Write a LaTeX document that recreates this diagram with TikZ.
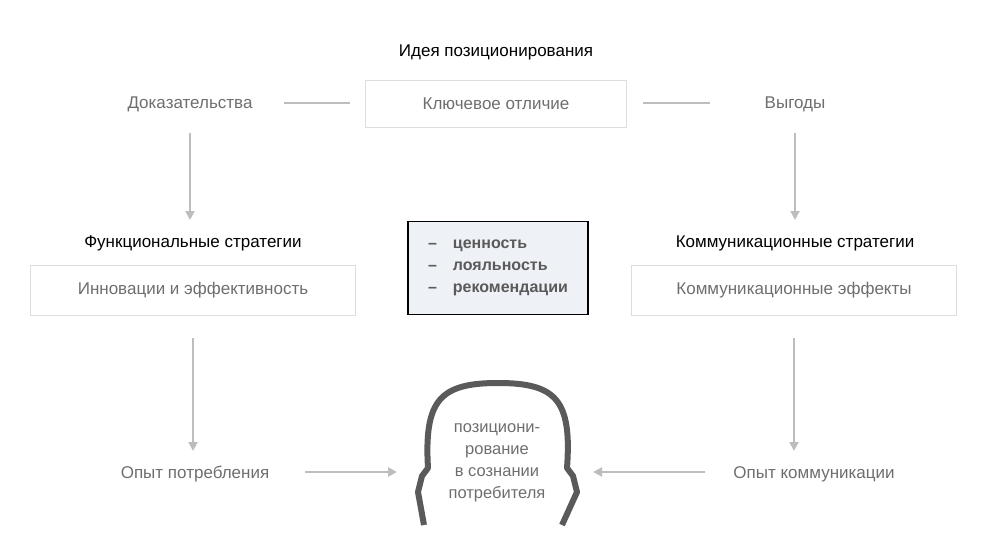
\documentclass[tikz,border=0pt]{standalone}
\usepackage{fontspec}
\setmainfont{Liberation Sans}
\usetikzlibrary{arrows.meta,positioning}
\definecolor{txtgray}{HTML}{6E6E6E}
\definecolor{boxline}{HTML}{DDDDDD}
\definecolor{arrgray}{HTML}{BDBDBD}
\definecolor{headgray}{HTML}{5A5A5A}
\definecolor{noteblue}{HTML}{EEF1F5}
\tikzset{lbl/.style={text=txtgray,font=\fontsize{17}{20}\selectfont},
hdr/.style={text=black,font=\fontsize{17}{20}\selectfont},
pbox/.style={draw=boxline,line width=1pt,minimum height=46pt,lbl},
arr/.style={draw=arrgray,line width=2pt,-{Triangle[length=9pt,width=9pt]}},
ln/.style={draw=arrgray,line width=2pt}}
\begin{document}
\begin{tikzpicture}[x=1pt,y=-1pt]
\useasboundingbox (0,0) rectangle (986,551);
\node[hdr] (idea) at (496,52) {Идея позиционирования};
\node[pbox,minimum width=261pt] (diff) at (496,104) {Ключевое отличие};
\node[lbl] (proof) at (190,104) {Доказательства};
\node[lbl] (gain) at (795,104) {Выгоды};
\coordinate (pl1) at (284,103); \coordinate (pl2) at (350,103);
\coordinate (pr1) at (643,103); \coordinate (pr2) at (710,103);
\draw[ln] (pl1) -- (pl2);
\draw[ln] (pr1) -- (pr2);

\node[hdr] (fhdr) at (193,243) {Функциональные стратегии};
\node[pbox,minimum width=325pt,minimum height=50pt] (innov) at (193,290) {Инновации и эффективность};
\node[hdr] (chdr) at (795,243) {Коммуникационные стратегии};
\node[pbox,minimum width=325pt,minimum height=50pt] (ceff) at (794,290) {Коммуникационные эффекты};

\node[draw=black,line width=1.2pt,fill=noteblue,minimum width=180pt,minimum height=93pt,
  align=left,text=headgray,font=\bfseries\fontsize{16}{22}\selectfont] (note) at (498,268)
  {–\quad ценность\\–\quad лояльность\\–\quad рекомендации};

\draw[arr] (proof.south |- 0,133) -- (proof.south |- 0,220);
\draw[arr] (gain.south |- 0,133) -- (gain.south |- 0,220);

\node[lbl] (cons) at (195,474) {Опыт потребления};
\node[lbl] (comm) at (814,474) {Опыт коммуникации};
\draw[arr] (innov.south |- 0,338) -- (innov.south |- 0,451);
\draw[arr] (ceff.south |- 0,338) -- (ceff.south |- 0,451);

% head
\draw[headgray,line width=6pt,line join=round]
 (424,525) -- (418,492) -- (422,476) -- (428,468)
 .. controls (424,400) and (440,383) .. (498,383)
 .. controls (556,383) and (572,400) .. (567,468)
 -- (573,476) -- (577,492) -- (562,525);
\node[lbl,align=center,font=\fontsize{16.5}{22}\selectfont] (pos) at (497,463)
 {позициони-\\рование\\в сознании\\потребителя};
\coordinate (hl) at (397,472); \coordinate (hr) at (593,472);
\draw[arr] (305,472) -- (hl);
\draw[arr] (705,472) -- (hr);
\end{tikzpicture}
\end{document}
